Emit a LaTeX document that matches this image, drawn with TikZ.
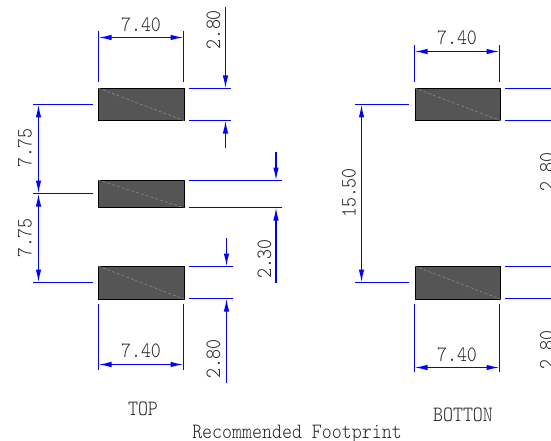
\documentclass[tikz,border=0pt]{standalone}
\usepackage{fontspec}
\setmonofont{Latin Modern Mono Light}
\usetikzlibrary{arrows.meta}
\definecolor{padgray}{HTML}{555555}
\definecolor{diaggray}{HTML}{A0A0A0}
\definecolor{dimblue}{RGB}{0,0,255}
\tikzset{
  pad/.style={draw=black,fill=padgray,line width=0.8pt,inner sep=0pt,minimum width=85.5pt,anchor=north west},
  ext/.style={draw=dimblue,line width=1.3pt},
  dim/.style={draw=dimblue,line width=1.3pt,-{Latex[length=13pt,width=5.5pt,color=dimblue]}},
  dimb/.style={draw=dimblue,line width=1.3pt,{Latex[length=13pt,width=5.5pt,color=dimblue]}-{Latex[length=13pt,width=5.5pt,color=dimblue]}},
  diag/.style={draw=diaggray,line width=0.35pt,densely dashed},
  labbase/.style={text=black!85,font=\ttfamily\fontsize{19}{19}\selectfont,inner sep=0pt},
  lab/.style={labbase,yscale=1.15,transform shape},
  labr/.style={labbase,rotate=90,yscale=1.15,transform shape},
}
\begin{document}
\begin{tikzpicture}[x=1pt,y=-1pt]
\clip (0,0) rectangle (551,441);
\fill[white] (0,0) rectangle (551,441);
% pads
\node[pad,minimum height=32pt] (p1) at (98,88) {};
\node[pad,minimum height=27pt] (p2) at (98,180) {};
\node[pad,minimum height=32.5pt] (p3) at (98,266) {};
\node[pad,minimum height=32pt] (q1) at (414.5,88) {};
\node[pad,minimum height=32.5pt] (q3) at (414.5,266) {};
\foreach \n in {p1,p2,p3,q1,q3}{\draw[diag] (\n.north west) -- (\n.south east);}
% left group: top width
\coordinate (a1) at (98.5,31); \coordinate (a2) at (98.5,82); \coordinate (a3) at (183.5,31); \coordinate (a4) at (183.5,82);
\coordinate (a5) at (98.5,37.5); \coordinate (a6) at (183.5,37.5);
\draw[ext] (a1)--(a2); \draw[ext] (a3)--(a4); \draw[dimb] (a5)--(a6);
\node[lab] (t1) at (141,25) {7.40};
% left group: top height
\coordinate (b1) at (189,88.5); \coordinate (b2) at (231,88.5); \coordinate (b3) at (189,120.5); \coordinate (b4) at (231,120.5);
\coordinate (b5) at (225.5,7); \coordinate (b6) at (225.5,88.5); \coordinate (b7) at (225.5,148); \coordinate (b8) at (225.5,120.5);
\draw[ext] (b1)--(b2); \draw[ext] (b3)--(b4); \draw[dim] (b5)--(b6); \draw[dim] (b7)--(b8);
\node[labr] (t2) at (213.5,30) {2.80};
% left group: pitch
\coordinate (c1) at (33,104.5); \coordinate (c2) at (93,104.5); \coordinate (c3) at (33,193.5); \coordinate (c4) at (93,193.5);
\coordinate (c5) at (33,282.5); \coordinate (c6) at (93,282.5);
\coordinate (c7) at (38.5,104.5); \coordinate (c8) at (38.5,193.5); \coordinate (c9) at (38.5,282.5);
\draw[ext] (c1)--(c2); \draw[ext] (c3)--(c4); \draw[ext] (c5)--(c6);
\draw[dimb] (c7)--(c8); \draw[dimb] (c8)--(c9);
\node[labr] (t3) at (25,148) {7.75};
\node[labr] (t4) at (25,238) {7.75};
% left group: middle height
\coordinate (d1) at (189,180.5); \coordinate (d2) at (282,180.5); \coordinate (d3) at (189,207.5); \coordinate (d4) at (282,207.5);
\coordinate (d5) at (276,152); \coordinate (d6) at (276,180.5); \coordinate (d7) at (276,283); \coordinate (d8) at (276,207.5);
\draw[ext] (d1)--(d2); \draw[ext] (d3)--(d4); \draw[dim] (d5)--(d6); \draw[dim] (d7)--(d8);
\node[labr] (t5) at (264.5,259) {2.30};
% left group: bottom height
\coordinate (e1) at (189,266.5); \coordinate (e2) at (233,266.5); \coordinate (e3) at (189,298.5); \coordinate (e4) at (233,298.5);
\coordinate (e5) at (226.5,238); \coordinate (e6) at (226.5,266.5); \coordinate (e7) at (226.5,383); \coordinate (e8) at (226.5,298.5);
\draw[ext] (e1)--(e2); \draw[ext] (e3)--(e4); \draw[dim] (e5)--(e6); \draw[dim] (e7)--(e8);
\node[labr] (t6) at (213.5,359) {2.80};
% left group: bottom width
\coordinate (f1) at (98.5,304); \coordinate (f2) at (98.5,370); \coordinate (f3) at (183.5,304); \coordinate (f4) at (183.5,370);
\coordinate (f5) at (98.5,364.5); \coordinate (f6) at (183.5,364.5);
\draw[ext] (f1)--(f2); \draw[ext] (f3)--(f4); \draw[dimb] (f5)--(f6);
\node[lab] (t7) at (141,351) {7.40};
% right group: top width
\coordinate (g1) at (414.5,45); \coordinate (g2) at (414.5,82); \coordinate (g3) at (499.5,45); \coordinate (g4) at (499.5,82);
\coordinate (g5) at (414.5,51.5); \coordinate (g6) at (499.5,51.5);
\draw[ext] (g1)--(g2); \draw[ext] (g3)--(g4); \draw[dimb] (g5)--(g6);
\node[lab] (t8) at (457,38) {7.40};
% right group: pitch
\coordinate (h1) at (355,104.5); \coordinate (h2) at (409,104.5); \coordinate (h3) at (355,282.5); \coordinate (h4) at (409,282.5);
\coordinate (h5) at (361.5,104.5); \coordinate (h6) at (361.5,282.5);
\draw[ext] (h1)--(h2); \draw[ext] (h3)--(h4); \draw[dimb] (h5)--(h6);
\node[labr] (t9) at (349,193) {15.50};
% right group: heights (cut by the page edge)
\coordinate (i1) at (505,88.5); \coordinate (i2) at (551,88.5); \coordinate (i3) at (505,120.5); \coordinate (i4) at (551,120.5);
\coordinate (i5) at (505,266.5); \coordinate (i6) at (551,266.5); \coordinate (i7) at (505,298.5); \coordinate (i8) at (551,298.5);
\draw[ext] (i1)--(i2); \draw[ext] (i3)--(i4); \draw[ext] (i5)--(i6); \draw[ext] (i7)--(i8);
\node[labr] (t10) at (547,172) {2.80};
\node[labr] (t11) at (547,350) {2.80};
% right group: bottom width
\coordinate (j1) at (414.5,304); \coordinate (j2) at (414.5,372); \coordinate (j3) at (499.5,304); \coordinate (j4) at (499.5,372);
\coordinate (j5) at (414.5,367.5); \coordinate (j6) at (499.5,367.5);
\draw[ext] (j1)--(j2); \draw[ext] (j3)--(j4); \draw[dimb] (j5)--(j6);
\node[lab] (t12) at (457,355) {7.40};
% captions
\node[lab] (t13) at (143,409) {TOP};
\node[lab] (t14) at (463,415) {BOTTON};
\node[lab] (t15) at (297,434.5) {Recommended Footprint};
\end{tikzpicture}
\end{document}
